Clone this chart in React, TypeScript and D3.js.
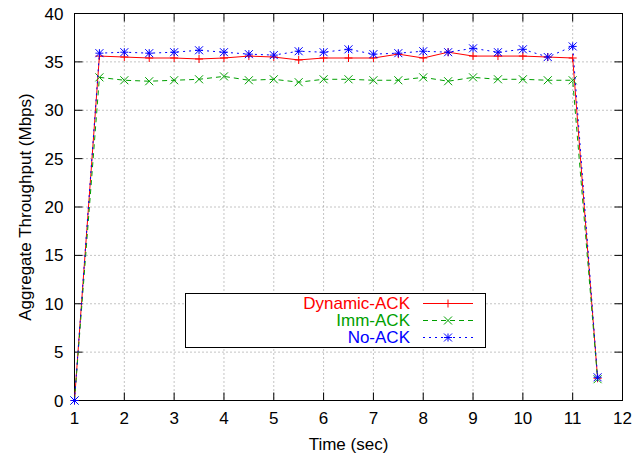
import React from "react";
import * as d3 from "d3";

const times = [1, 1.5, 2, 2.5, 3, 3.5, 4, 4.5, 5, 5.5, 6, 6.5, 7, 7.5, 8, 8.5, 9, 9.5, 10, 10.5, 11, 11.5];
const dynamicAck = [0, 35.6, 35.5, 35.4, 35.4, 35.3, 35.4, 35.6, 35.5, 35.2, 35.4, 35.4, 35.4, 35.8, 35.4, 36.0, 35.6, 35.6, 35.6, 35.5, 35.4, 2.3];
const immAck = [0, 33.4, 33.1, 33.0, 33.1, 33.2, 33.5, 33.1, 33.2, 32.9, 33.2, 33.2, 33.1, 33.1, 33.4, 33.0, 33.4, 33.2, 33.2, 33.1, 33.1, 2.2];
const noAck = [0, 35.9, 36.0, 35.9, 36.0, 36.2, 36.0, 35.8, 35.7, 36.1, 36.0, 36.3, 35.8, 35.9, 36.1, 36.0, 36.4, 36.0, 36.3, 35.5, 36.6, 2.4];
const xTicks = [1, 2, 3, 4, 5, 6, 7, 8, 9, 10, 11, 12];
const yTicks = [0, 5, 10, 15, 20, 25, 30, 35, 40];
const seriesNames = ["Dynamic-ACK", "Imm-ACK", "No-ACK"];

const W = 644, H = 456;
const L = 74.5, R = 622.5, T = 13.5, B = 400.5;
const FONT = "'Liberation Sans', Arial, sans-serif";

export default function App() {
  const x = d3.scaleLinear().domain([1, 12]).range([L, R]);
  const y = d3.scaleLinear().domain([0, 40]).range([B, T]);
  const line = d3.line<number>().x((_, i) => x(times[i])).y((d) => y(d));

  const series = [
    { name: seriesNames[0], data: dynamicAck, color: "#ff0000", dash: "none", marker: "plus" },
    { name: seriesNames[1], data: immAck, color: "#00a000", dash: "5,4", marker: "cross" },
    { name: seriesNames[2], data: noAck, color: "#0000ff", dash: "2,4", marker: "star" },
  ];

  const marker = (kind: string, cx: number, cy: number, color: string, key: string) => {
    const s = 4;
    const plus = `M${cx - s},${cy}H${cx + s}M${cx},${cy - s}V${cy + s}`;
    const cross = `M${cx - s},${cy - s}L${cx + s},${cy + s}M${cx - s},${cy + s}L${cx + s},${cy - s}`;
    const d = kind === "plus" ? plus : kind === "cross" ? cross : plus + cross;
    return <path key={key} d={d} stroke={color} strokeWidth={1} fill="none" />;
  };

  const lx0 = 185.5, lx1 = 485.5, ly0 = 293.5, ly1 = 347.5;
  const rowsY = [303, 320, 337];

  return (
    <svg width={W} height={H} style={{ position: "absolute", left: 0, top: 0, background: "#fff" }} fontFamily={FONT}>
      <rect x={0} y={0} width={W} height={H} fill="#fff" />
      {/* grid */}
      {xTicks.slice(1, -1).map((t) => (
        <line key={"gx" + t} x1={x(t)} x2={x(t)} y1={T} y2={B} stroke="#888" strokeWidth={1} strokeDasharray="1,3" />
      ))}
      {yTicks.slice(1, -1).map((t) => (
        <line key={"gy" + t} x1={L} x2={R} y1={y(t)} y2={y(t)} stroke="#888" strokeWidth={1} strokeDasharray="1,3" />
      ))}
      {/* ticks */}
      {xTicks.map((t) => (
        <g key={"tx" + t}>
          <line x1={x(t)} x2={x(t)} y1={B} y2={B - 8} stroke="#000" />
          <line x1={x(t)} x2={x(t)} y1={T} y2={T + 8} stroke="#000" />
          <text x={x(t)} y={424} fontSize={17} textAnchor="middle" fill="#000">{t}</text>
        </g>
      ))}
      {yTicks.map((t) => (
        <g key={"ty" + t}>
          <line x1={L} x2={L + 8} y1={y(t)} y2={y(t)} stroke="#000" />
          <line x1={R} x2={R - 8} y1={y(t)} y2={y(t)} stroke="#000" />
          <text x={63.5} y={y(t) + 6} fontSize={17} textAnchor="end" fill="#000">{t}</text>
        </g>
      ))}
      <rect x={L} y={T} width={R - L} height={B - T} fill="none" stroke="#000" strokeWidth={1} />
      <text x={(L + R) / 2} y={450} fontSize={17} textAnchor="middle" fill="#000">Time (sec)</text>
      <text transform={`translate(31,${(T + B) / 2}) rotate(-90)`} fontSize={17} textAnchor="middle" fill="#000">
        Aggregate Throughput (Mbps)
      </text>
      {/* series */}
      {series.map((s) => (
        <g key={s.name}>
          <path d={line(s.data) || ""} fill="none" stroke={s.color} strokeWidth={1} strokeDasharray={s.dash} />
          {s.data.map((v, i) => marker(s.marker, x(times[i]), y(v), s.color, s.name + i))}
        </g>
      ))}
      {/* legend */}
      <rect x={lx0} y={ly0} width={lx1 - lx0} height={ly1 - ly0} fill="#fff" stroke="#000" strokeWidth={1} />
      {series.map((s, i) => (
        <g key={"leg" + s.name}>
          <text x={410} y={rowsY[i] + 6} fontSize={17} textAnchor="end" fill={s.color}>{s.name}</text>
          <line x1={423} x2={473} y1={rowsY[i] + 0.5} y2={rowsY[i] + 0.5} stroke={s.color} strokeDasharray={s.dash} />
          {marker(s.marker, 448, rowsY[i] + 0.5, s.color, "lm" + i)}
        </g>
      ))}
    </svg>
  );
}
